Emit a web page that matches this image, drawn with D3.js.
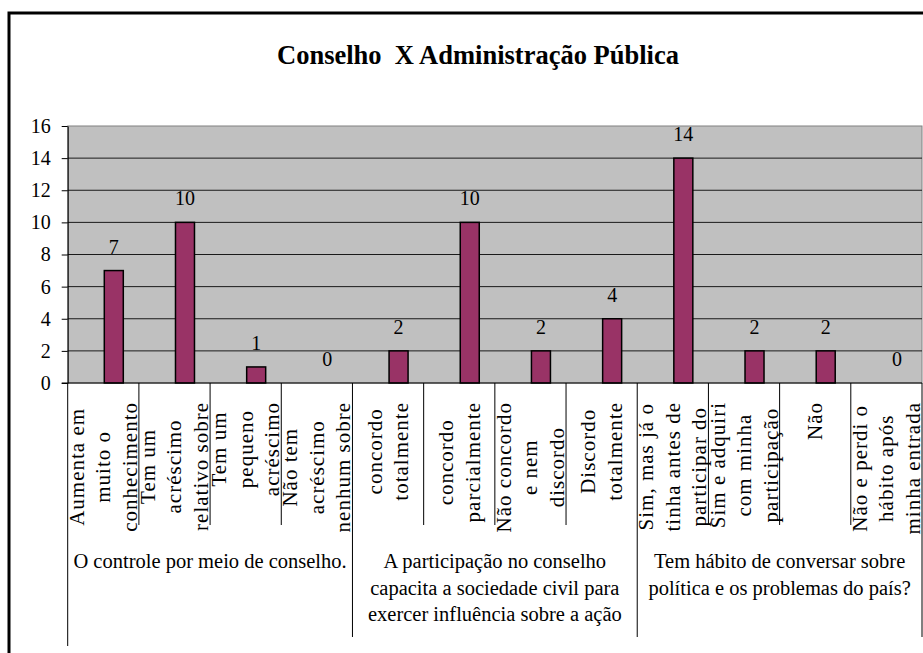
<!DOCTYPE html>
<html>
<head>
<meta charset="utf-8">
<script src="https://cdn.jsdelivr.net/npm/d3@7"></script>
<style>
  body { margin: 0; background: #fff; }
  svg { display: block; font-family: "Liberation Serif", "Times New Roman", serif; }
</style>
</head>
<body>
<svg width="923" height="653"></svg>
<script>
const titleText = "Conselho  X Administração Pública";

const categories = [
  ["Aumenta em", "muito o", "conhecimento"],
  ["Tem um", "acréscimo", "relativo sobre"],
  ["Tem um", "pequeno", "acréscimo"],
  ["Não tem", "acréscimo", "nenhum sobre"],
  ["concordo", "totalmente"],
  ["concordo", "parcialmente"],
  ["Não concordo", "e nem", "discordo"],
  ["Discordo", "totalmente"],
  ["Sim, mas já o", "tinha antes de", "participar do"],
  ["Sim e adquiri", "com minha", "participação"],
  ["Não"],
  ["Não e perdi o", "hábito após", "minha entrada"]
];

const values = [7, 10, 1, 0, 2, 10, 2, 4, 14, 2, 2, 0];

const groups = [
  { size: 4, lines: ["O controle por meio de conselho."] },
  { size: 4, lines: ["A participação no conselho", "capacita a sociedade civil para", "exercer influência sobre a ação"] },
  { size: 4, lines: ["Tem hábito de conversar sobre", "política e os problemas do país?"] }
];

const yTicks = [0, 2, 4, 6, 8, 10, 12, 14, 16];

const svg = d3.select("svg"),
  plotL = 67.7, plotR = 922, plotT = 126, plotB = 383;

// outer frame (only left and top edges visible)
svg.append("rect")
  .attr("x", 9).attr("y", 13)
  .attr("width", 1200).attr("height", 1200)
  .attr("fill", "none").attr("stroke", "#000").attr("stroke-width", 3);

svg.append("text")
  .attr("x", 478).attr("y", 64)
  .attr("text-anchor", "middle")
  .style("font-size", "26.5px").style("font-weight", "bold")
  .style("white-space", "pre")
  .text(titleText);

const x = d3.scaleBand().domain(d3.range(values.length)).range([plotL, plotR]);
const y = d3.scaleLinear().domain([0, 16]).range([plotB, plotT]);
const step = x.step();

// plot background
svg.append("rect")
  .attr("x", plotL).attr("y", plotT)
  .attr("width", plotR - plotL).attr("height", plotB - plotT)
  .attr("fill", "#c0c0c0").attr("stroke", "#808080").attr("stroke-width", 1);

// gridlines
svg.append("g").selectAll("line")
  .data(yTicks.filter(d => d > 0 && d < 16))
  .enter().append("line")
  .attr("x1", plotL).attr("x2", plotR)
  .attr("y1", d => y(d)).attr("y2", d => y(d))
  .attr("stroke", "#1a1a1a").attr("stroke-width", 1);

// y axis
const yAxis = svg.append("g")
  .attr("transform", "translate(" + plotL + ",0)")
  .call(d3.axisLeft(y).tickValues(yTicks).tickSize(6).tickPadding(11).tickSizeOuter(0));
yAxis.select(".domain").attr("stroke", "#000");
yAxis.selectAll(".tick line").attr("stroke", "#000");
yAxis.selectAll("text")
  .style("font-family", "'Liberation Serif', serif")
  .style("font-size", "20px").attr("fill", "#000");

// bars
const bw = 19;
svg.append("g").selectAll("rect")
  .data(values)
  .enter().append("rect")
  .attr("x", (d, i) => x(i) + step / 2 + 1)
  .attr("y", d => y(d))
  .attr("width", bw)
  .attr("height", d => plotB - y(d))
  .attr("fill", "#993366")
  .attr("stroke", "#000").attr("stroke-width", 1.5);

// value labels
svg.append("g").selectAll("text")
  .data(values)
  .enter().append("text")
  .attr("x", (d, i) => x(i) + step / 2 + 1 + bw / 2)
  .attr("y", d => y(d) - 17)
  .attr("text-anchor", "middle")
  .style("font-size", "20px")
  .text(d => d);

// x axis line
svg.append("line")
  .attr("x1", plotL - 6).attr("x2", plotR)
  .attr("y1", plotB).attr("y2", plotB)
  .attr("stroke", "#000").attr("stroke-width", 1.2);

// category separators
const groupEdges = [0];
groups.forEach(g => groupEdges.push(groupEdges[groupEdges.length - 1] + g.size));
d3.range(values.length + 1).forEach(i => {
  const xx = i < values.length ? x(i) : plotR;
  const isGroup = groupEdges.includes(i);
  svg.append("line")
    .attr("x1", xx).attr("x2", xx)
    .attr("y1", plotB)
    .attr("y2", isGroup ? (i === 0 ? 646 : 637) : 525)
    .attr("stroke", "#000").attr("stroke-width", 1);
});

// rotated category labels
const lineH = 26.5, labelTop = 402;
categories.forEach((lines, i) => {
  const cx = x(i) + step / 2;
  const g = svg.append("g");
  const texts = lines.map((s, j) => {
    const bx = cx + (j - (lines.length - 1) / 2) * lineH + 7;
    return g.append("text")
      .attr("text-anchor", "middle")
      .attr("data-bx", bx)
      .style("font-size", "21px")
      .style("letter-spacing", "1px")
      .text(s);
  });
  const maxLen = d3.max(texts, t => t.node().getComputedTextLength());
  const cy = labelTop + maxLen / 2;
  texts.forEach(t => {
    t.attr("transform", "translate(" + t.attr("data-bx") + "," + cy + ") rotate(-90)");
  });
});

// group labels
let start = 0;
groups.forEach(g => {
  const cx = (x(start) + (start + g.size < values.length ? x(start + g.size) : plotR)) / 2;
  g.lines.forEach((s, j) => {
    svg.append("text")
      .attr("x", cx).attr("y", 568 + j * 26.5)
      .attr("text-anchor", "middle")
      .style("font-size", "20.5px")
      .text(s);
  });
  start += g.size;
});
</script>
</body>
</html>
